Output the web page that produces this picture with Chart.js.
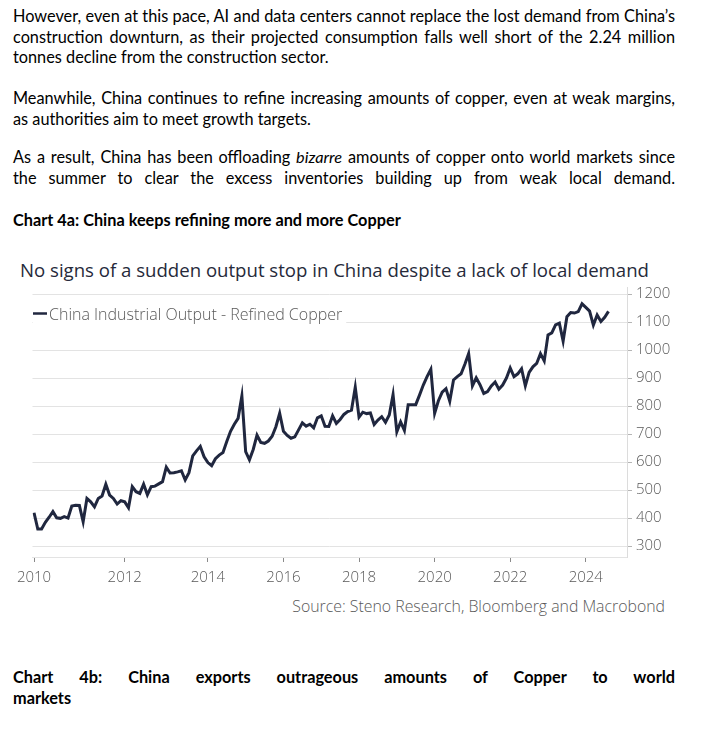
<!DOCTYPE html>
<html>
<head>
<meta charset="utf-8">
<script src="https://cdn.jsdelivr.net/npm/chart.js@4.4.1/dist/chart.umd.min.js"></script>
<style>
  html, body { margin: 0; padding: 0; background: #fff; }
  body { width: 726px; height: 755px; position: relative; overflow: hidden; font-family: Lato, "Open Sans", sans-serif; color: #000; }
  .txt { position: absolute; left: 13px; width: 662px; font-size: 16.3px; line-height: 20.5px; }
  .txt span { display: block; white-space: nowrap; }
  .txt .j { text-align: justify; text-align-last: justify; white-space: normal; }
  .bold { font-weight: bold; }
  #title { position: absolute; left: 20px; top: 257px; font-family: "Open Sans", sans-serif; font-size: 18.6px; color: #262a3a; white-space: nowrap; }
  #source { position: absolute; right: 61px; top: 595px; font-family: "Open Sans", sans-serif; font-weight: 300; font-size: 15.85px; color: #595959; white-space: nowrap; }
  #wrap { position: absolute; left: 0; top: 280px; width: 726px; height: 310px; }
</style>
</head>
<body>
<div class="txt" style="top:6px">
  <span class="j">However, even at this pace, AI and data centers cannot replace the lost demand from China’s</span>
  <span class="j">construction downturn, as their projected consumption falls well short of the 2.24 million</span>
  <span>tonnes decline from the construction sector.</span>
</div>
<div class="txt" style="top:88px">
  <span class="j">Meanwhile, China continues to refine increasing amounts of copper, even at weak margins,</span>
  <span>as authorities aim to meet growth targets.</span>
</div>
<div class="txt" style="top:147px">
  <span class="j">As a result, China has been offloading <i>bizarre</i> amounts of copper onto world markets since</span>
  <span class="j">the summer to clear the excess inventories building up from weak local demand.</span>
</div>
<div class="txt bold" style="top:210px">
  <span>Chart 4a: China keeps refining more and more Copper</span>
</div>

<div id="title">No signs of a sudden output stop in China despite a lack of local demand</div>
<div id="wrap"><canvas id="line" width="726" height="310"></canvas></div>
<div id="source">Source: Steno Research, Bloomberg and Macrobond</div>

<div class="txt bold" style="top:667px">
  <span class="j">Chart 4b: China exports outrageous amounts of Copper to world</span>
  <span>markets</span>
</div>

<script>
// monthly observations: Jan missing from 2012, Jan+Feb missing from 2014 on
const years = [2010, 2011, 2012, 2013, 2014, 2015, 2016, 2017, 2018, 2019, 2020, 2021, 2022, 2023, 2024];
const firstMonth = [1, 1, 2, 2, 3, 3, 3, 3, 3, 3, 3, 3, 3, 3, 3];
const lastMonth = [12, 12, 12, 12, 12, 12, 12, 12, 12, 12, 12, 12, 12, 12, 9];

// China Industrial Output - Refined Copper (thousand tonnes)
const output = [
  419, 361, 361, 385, 403, 423, 401, 399, 405, 400, 443, 446,
  445, 387, 470, 458, 440, 470, 479, 521, 482, 470, 450, 462,
  458, 437, 512, 494, 488, 521, 483, 512, 514, 522, 530,
  582, 561, 562, 565, 569, 536, 562, 622, 640, 656, 619,
  598, 587, 612, 625, 634, 673, 710, 735, 756, 836,
  637, 608, 645, 696, 670, 667, 675, 692, 726, 774,
  710, 695, 685, 690, 715, 740, 728, 735, 722, 758,
  765, 728, 727, 765, 738, 752, 770, 780, 785, 867,
  760, 778, 773, 775, 734, 750, 762, 742, 768, 841,
  708, 743, 713, 805, 805, 805, 839, 875, 905, 931,
  774, 819, 850, 862, 817, 893, 905, 915, 949, 987,
  872, 901, 876, 845, 852, 872, 886, 860, 875, 900,
  936, 905, 915, 933, 872, 920, 940, 952, 987, 961,
  1054, 1061, 1090, 1096, 1032, 1119, 1134, 1132, 1137, 1165,
  1152, 1139, 1089, 1125, 1102, 1117, 1138
];

const xTickYears = ["2010", "2012", "2014", "2016", "2018", "2020", "2022", "2024"];
const yTicks = [300, 400, 500, 600, 700, 800, 900, 1000, 1100, 1200];
const seriesName = "China Industrial Output - Refined Copper";

const periods = [];
years.forEach((y, k) => {
  for (let m = firstMonth[k]; m <= lastMonth[k]; m++) {
    periods.push(y + "-" + String(m).padStart(2, "0"));
  }
});

const lineColor = "#20273f";
const greyText = "#595959";

const legendBox = {
  id: "legendBox",
  afterDatasetsDraw(chart) {
    const { ctx, chartArea } = chart;
    const x = chartArea.left + 0.5;
    const y = chartArea.top + 28.5;
    ctx.save();
    ctx.font = "300 16px 'Open Sans', sans-serif";
    const w = ctx.measureText(seriesName).width;
    ctx.fillStyle = "#fff";
    ctx.fillRect(x, y - 11, w + 20, 23);
    ctx.strokeStyle = lineColor;
    ctx.lineWidth = 2.5;
    ctx.beginPath();
    ctx.moveTo(x, y - 2);
    ctx.lineTo(x + 14, y - 2);
    ctx.stroke();
    ctx.fillStyle = greyText;
    ctx.textBaseline = "middle";
    ctx.fillText(seriesName, x + 16, y);
    ctx.restore();
  }
};

Chart.defaults.font.family = "'Open Sans', sans-serif";

const ctx = document.getElementById("line").getContext("2d");
const myChart = new Chart(ctx, {
  type: "line",
  data: {
    datasets: [
      {
        label: seriesName,
        data: output.map((v, i) => ({ x: i, y: v })),
        borderColor: lineColor,
        borderWidth: 3,
        pointRadius: 0,
        tension: 0,
        fill: false
      }
    ]
  },
  options: {
    responsive: false,
    animation: false,
    layout: { padding: { left: 32.5, right: 0, top: 7, bottom: 3 } },
    plugins: { legend: { display: false }, tooltip: { enabled: false } },
    scales: {
      x: {
        type: "linear",
        min: -0.4,
        max: 156.9,
        afterBuildTicks: s => {
          s.ticks = xTickYears.map(y => ({ value: periods.findIndex(p => p.startsWith(y)) }));
        },
        afterFit: s => { s.height = 30; s.paddingLeft = 0; s.paddingRight = 0; },
        grid: { drawOnChartArea: false, drawTicks: true, tickLength: 5, tickColor: "#8a8a8a" },
        border: { display: true, color: "#e3e3e3" },
        ticks: {
          autoSkip: false,
          maxRotation: 0,
          padding: 7,
          color: greyText,
          font: { size: 15, weight: "300" },
          callback: v => periods[v].slice(0, 4)
        }
      },
      y: {
        position: "right",
        min: 261,
        max: 1225,
        afterBuildTicks: s => {
          s.ticks = yTicks.map(v => ({ value: v }));
        },
        afterFit: s => { s.width = 99; s.paddingTop = 0; s.paddingBottom = 0; },
        grid: { color: "#e3e3e3", lineWidth: 1, tickLength: 5, tickColor: "#b5b5b5" },
        border: { display: true, color: "#dcdcdc" },
        ticks: {
          padding: 4,
          color: greyText,
          font: { size: 15, weight: "300" },
          callback: v => String(v)
        }
      }
    }
  },
  plugins: [legendBox]
});
</script>
</body>
</html>
